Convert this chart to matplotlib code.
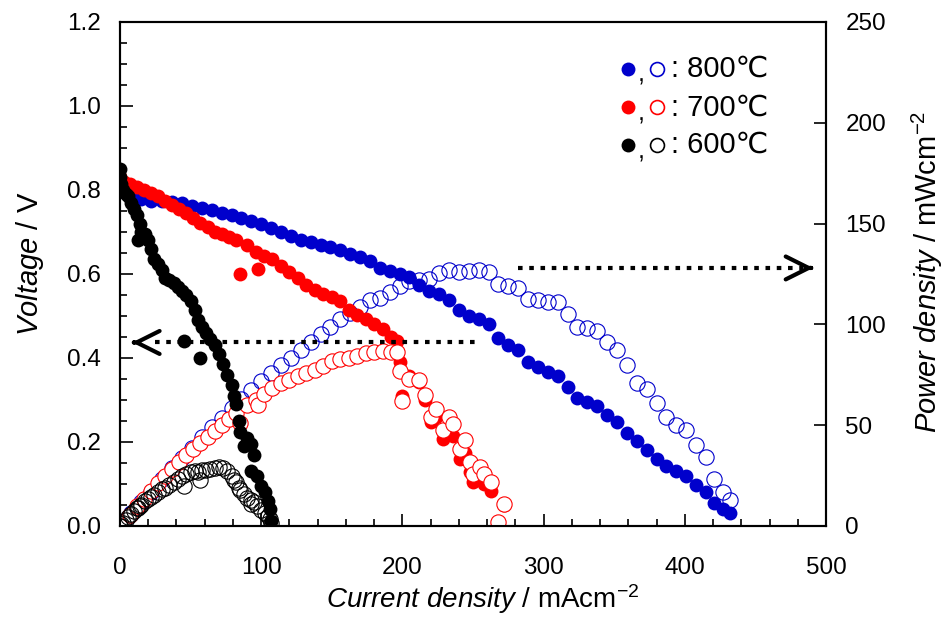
import matplotlib
matplotlib.use('Agg')
import matplotlib.pyplot as plt
from matplotlib.ticker import MultipleLocator, FormatStrFormatter

plt.rcParams['font.family'] = ['Liberation Sans', 'DejaVu Sans']
plt.rcParams['mathtext.fontset'] = 'custom'
plt.rcParams['mathtext.rm'] = 'Liberation Sans'
plt.rcParams['mathtext.it'] = 'Liberation Sans:italic'

# 800 C : current density (mA/cm2), voltage (V), power density (mW/cm2)
I_800 = [0, 3, 8, 15, 22, 30, 37, 44, 51, 58, 65, 72, 79, 86, 93, 100,
         107, 114, 121, 128, 135, 142, 149, 156, 163, 170, 177, 184, 191, 198,
         205, 212, 219, 226, 233, 240, 247, 254, 261, 268, 275, 282, 289, 296,
         303, 310, 317, 324, 331, 338, 345, 352, 359, 366, 373, 380, 387, 394,
         401, 408, 415, 421, 427, 432]
V_800 = [0.800, 0.795, 0.785, 0.778, 0.775, 0.773, 0.772, 0.768, 0.763, 0.758,
         0.752, 0.746, 0.741, 0.733, 0.727, 0.720,
         0.709, 0.700, 0.690, 0.681, 0.676, 0.670, 0.664, 0.657, 0.648, 0.640,
         0.632, 0.615, 0.607, 0.600, 0.593, 0.575, 0.560, 0.552, 0.538, 0.515,
         0.500, 0.494, 0.482, 0.447, 0.432, 0.418, 0.390, 0.378, 0.367, 0.358,
         0.332, 0.305, 0.296, 0.286, 0.265, 0.248, 0.222, 0.203, 0.182, 0.160,
         0.142, 0.132, 0.119, 0.098, 0.082, 0.055, 0.040, 0.030]
P_800 = [0, 2.4, 6.3, 11.7, 17.0, 23.2, 28.6, 33.8, 38.9, 44.0, 48.9, 53.7,
         58.5, 63.0, 67.6, 72.0,
         75.9, 79.8, 83.5, 87.2, 91.3, 95.1, 98.9, 102.5, 105.6, 108.8,
         111.9, 113.2, 115.9, 118.8, 121.6, 121.9, 122.6, 125.5, 127.0, 126.0,
         126.5, 127.0, 126.0, 119.8, 118.8, 117.9, 112.7, 111.9, 111.2, 111.0,
         105.2, 98.8, 98.0, 96.7, 91.4, 87.3, 79.7, 71.0, 67.9, 60.8,
         54.0, 50.0, 47.7, 40.0, 34.0, 23.2, 17.1, 13.0]

# 700 C
I_700 = [0, 3, 7, 12, 17, 22, 27, 32, 37, 42, 47, 52, 57, 62, 67, 72, 77, 82,
         85, 90, 96, 98, 102, 108, 114, 120, 126, 132, 138, 144, 150, 156, 162,
         168, 174, 180, 186, 192, 196, 198, 200, 205, 212, 216, 220, 224, 229,
         233, 236, 241, 244, 248, 250, 255, 258, 263, 268, 272]
V_700 = [0.830, 0.820, 0.815, 0.808, 0.800, 0.793, 0.785, 0.775, 0.765, 0.755,
         0.745, 0.733, 0.722, 0.712, 0.700, 0.695, 0.688, 0.682, 0.600, 0.668,
         0.653, 0.612, 0.642, 0.635, 0.620, 0.605, 0.590, 0.575, 0.562, 0.553,
         0.545, 0.535, 0.515, 0.503, 0.493, 0.482, 0.468, 0.450, 0.440, 0.390,
         0.310, 0.357, 0.342, 0.300, 0.247, 0.260, 0.207, 0.232, 0.214, 0.159,
         0.175, 0.128, 0.104, 0.115, 0.100, 0.083, 0.008, 0.050]
P_700 = [0, 2.5, 5.7, 9.7, 13.6, 17.4, 21.2, 24.8, 28.3, 31.7,
         35.0, 38.1, 41.2, 44.1, 46.9, 50.0, 53.0, 55.9, 51.0, 60.1,
         62.7, 60.0, 65.5, 68.6, 70.7, 72.6, 74.3, 75.9, 77.6, 79.6,
         81.8, 83.0, 83.4, 84.5, 85.8, 86.5, 87.0, 86.4, 86.2, 77.0,
         62.0, 73.0, 72.5, 65.0, 54.0, 58.0, 47.4, 54.0, 50.5, 38.0,
         42.7, 31.7, 26.0, 29.3, 25.8, 21.8, 2.0, 11.0]

# 600 C
I_600 = [0, 0, 1, 2, 4, 6, 8, 10, 12, 13, 14, 15, 18, 20, 22, 24, 27, 30, 32,
         35, 38, 41, 44, 45, 47, 50, 53, 55, 57, 58, 61, 64, 67, 70, 73, 76,
         79, 81, 82, 84, 85, 88, 90, 93, 93, 95, 97, 100, 103, 105, 106, 107]
V_600 = [0.850, 0.830, 0.815, 0.800, 0.790, 0.785, 0.770, 0.755, 0.740, 0.680,
         0.720, 0.700, 0.695, 0.680, 0.660, 0.635, 0.625, 0.610, 0.590, 0.585,
         0.578, 0.570, 0.560, 0.440, 0.550, 0.535, 0.515, 0.490, 0.400, 0.475,
         0.460, 0.445, 0.430, 0.410, 0.385, 0.360, 0.335, 0.310, 0.290, 0.250,
         0.225, 0.190, 0.210, 0.195, 0.130, 0.170, 0.120, 0.095, 0.080, 0.060,
         0.040, 0.012]
P_600 = [0, 0, 0.8, 1.6, 3.2, 4.7, 6.2, 7.5, 8.9, 8.8, 10.1, 10.5, 12.5, 13.6,
         14.5, 15.2, 16.9, 18.3, 18.9, 20.5, 22.0, 23.4, 24.6, 19.8, 25.9, 26.8,
         27.3, 27.0, 22.8, 27.6, 28.0, 28.5, 28.8, 29.5, 29.0, 27.4, 25.0, 23.0,
         22.0, 19.0, 18.0, 16.0, 14.0, 13.0, 11.0, 12.0, 10.0, 8.0, 6.5, 5.0,
         3.5, 1.3]

temps = ['800\u2103', '700\u2103', '600\u2103']
colors = ['#0000cc', '#ff0000', '#000000']

fig = plt.figure(figsize=(9.47, 6.18), dpi=100)
ax = fig.add_axes([120 / 947, 1 - 526 / 618, 706 / 947, 504 / 618])
ax2 = ax.twinx()
ax2.set_ylim(0, 250)

# power curves are drawn inside ax (with ax2's scale) so stacking order can be mixed
p_tr = ax2.transData
ms_open, ms_fill = 11, 10

# 800
ax.plot(I_800, P_800, ls='none', marker='o', ms=ms_open, mfc='none', mec=colors[0],
        mew=0.8, transform=p_tr, zorder=2)
ax.plot(I_800, V_800, ls='none', marker='o', ms=ms_fill, color=colors[0], mew=0, zorder=3)
# 700
ax.plot(I_700, V_700, ls='none', marker='o', ms=ms_fill, color=colors[1], mew=0, zorder=4)
ax.plot(I_700, P_700, ls='none', marker='o', ms=ms_open, mfc='white', mec=colors[1],
        mew=0.8, transform=p_tr, zorder=5)
# 600
ax.plot(I_600, P_600, ls='none', marker='o', ms=ms_open, mfc='none', mec=colors[2],
        mew=0.8, transform=p_tr, zorder=6)
ax.plot(I_600, V_600, ls='none', marker='o', ms=ms_fill, color=colors[2], mew=0, zorder=7)

# dotted arrows: voltage -> left axis, power -> right axis
dots = dict(color='k', lw=3, linestyle=(0, (1.1, 1.6)), dash_capstyle='butt', zorder=8)
ax.plot([25, 253], [0.437, 0.437], **dots)
ax.plot([282, 484], [128, 128], transform=p_tr, **dots)
head = dict(arrowstyle='->,head_length=1.1,head_width=0.55', lw=3, color='k',
            mutation_scale=15, shrinkA=0, shrinkB=0)
ax.annotate('', xy=(8.5, 0.437), xytext=(10, 0.437), arrowprops=head, zorder=8)
ax2.annotate('', xy=(491, 128), xytext=(489, 128), arrowprops=head)

# legend
rows_y = [0.907, 0.831, 0.756]
for t, c, y in zip(temps, colors, rows_y):
    ax.plot([0.7195], [y], 'o', ms=10, color=c, mew=0, transform=ax.transAxes, zorder=9)
    ax.plot([0.7606], [y], 'o', ms=10, mfc='none', mec=c, mew=1.2,
            transform=ax.transAxes, zorder=9)
    ax.text(0.738, y - 0.012, ',', fontsize=18, ha='center', va='center',
            transform=ax.transAxes)
    ax.text(0.780, y, ': ' + t, fontsize=21, ha='left', va='center',
            transform=ax.transAxes)

ax.set_xlim(0, 500)
ax.set_ylim(0, 1.2)
ax2.set_ylim(0, 250)

ax.xaxis.set_major_locator(MultipleLocator(100))
ax.xaxis.set_minor_locator(MultipleLocator(20))
ax.yaxis.set_major_locator(MultipleLocator(0.2))
ax.yaxis.set_minor_locator(MultipleLocator(0.05))
ax.yaxis.set_major_formatter(FormatStrFormatter('%.1f'))
ax.tick_params(which='both', direction='in', top=False, right=False, width=1.2)
ax.tick_params(which='major', length=9, labelsize=17.5)
ax.tick_params(which='minor', length=5)
ax.tick_params(axis='x', pad=22)
ax.tick_params(axis='y', pad=14)

ax2.yaxis.set_major_locator(MultipleLocator(50))
ax2.tick_params(direction='in', length=9, width=1.2, labelsize=17.5, pad=14)

for a in (ax, ax2):
    for s in a.spines.values():
        s.set_linewidth(1.5)

fig.text(483 / 947, 1 - 599 / 618, r'$\mathit{Current\ density}$ / mAcm$^{-2}$',
         fontsize=20, ha='center', va='center')
fig.text(30 / 947, 1 - 264 / 618, r'$\mathit{Voltage}$ / V', fontsize=21,
         rotation=90, ha='center', va='center')
fig.text(927 / 947, 1 - 272 / 618, r'$\mathit{Power\ density}$ / mWcm$^{-2}$',
         fontsize=21, rotation=90, ha='center', va='center')

fig.savefig('out.png', dpi=100)
